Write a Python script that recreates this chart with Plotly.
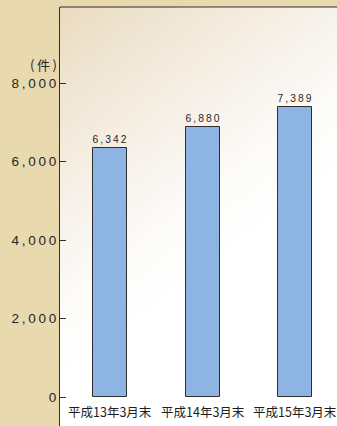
import plotly.graph_objects as go

# Year-end counts (件)
periods = ["平成13年3月末", "平成14年3月末", "平成15年3月末"]
counts = [6342, 6880, 7389]
y_ticks = [0, 2000, 4000, 6000, 8000]

W, H = 337, 426
top, left = 7, 60
zero_px = 397                      # pixel row of the zero line
px_per_unit = (zero_px - 83) / 8000
y_lo = -(H - zero_px) / px_per_unit
y_hi = (zero_px - top) / px_per_unit

cat_px0, cat_step = 110, 92.7
x_lo = -(cat_px0 - left) / cat_step
x_hi = (W - cat_px0) / cat_step

def spaced(s, sep="\u2009"):
    return sep.join(s)

fig = go.Figure()
fig.add_trace(go.Bar(
    x=list(range(len(periods))),
    y=counts,
    width=0.367,
    marker=dict(color="#8db4e2", line=dict(color="#2e2e2e", width=1)),
    text=[spaced(f"{v:,}") for v in counts],
    textposition="outside",
    textfont=dict(family="Liberation Sans, Arial", size=11.5, color="#262626"),
    cliponaxis=False,
    hoverinfo="skip",
))

# panel fill: warm beige in the upper-left fading to white along a diagonal
pw, ph = W - left, H - top
stops = [(0.0, "eadbbf"), (0.2, "efe4d0"), (0.25, "f0e6d6"), (0.43, "f5ede0"),
         (0.52, "f6f0e8"), (0.78, "fcfbf8"), (1.0, "ffffff")]
stop_tags = "".join(f"<stop offset='{o}' stop-color='%23{c}'/>" for o, c in stops)
gradient_svg = (
    "data:image/svg+xml;utf8,"
    f"<svg xmlns='http://www.w3.org/2000/svg' width='{pw}' height='{ph}' "
    f"viewBox='0 0 {pw} {ph}' preserveAspectRatio='none'>"
    "<defs><linearGradient id='g' gradientUnits='userSpaceOnUse' "
    "x1='0' y1='0' x2='183' y2='238'>"
    f"{stop_tags}"
    "</linearGradient></defs>"
    f"<rect width='{pw}' height='{ph}' fill='url(%23g)'/></svg>"
)

# category labels sit just under the zero line
label_annotations = [
    dict(text=p, x=i, y=0, xref="x", yref="y", xanchor="center", yanchor="top",
         yshift=-3, showarrow=False,
         font=dict(family="Noto Sans CJK JP", size=12.5, color="#1e1e1e"))
    for i, p in enumerate(periods)
]

fig.update_layout(
    width=W, height=H,
    margin=dict(l=left, r=0, t=top, b=0),
    paper_bgcolor="#e8d9af",
    plot_bgcolor="rgba(0,0,0,0)",
    showlegend=False,
    bargap=0,
    images=[dict(source=gradient_svg, xref="paper", yref="paper",
                 x=0, y=1, sizex=1, sizey=1, sizing="stretch",
                 xanchor="left", yanchor="top", layer="below")],
    xaxis=dict(
        range=[x_lo, x_hi],
        showgrid=False, zeroline=False, showline=False,
        showticklabels=False, ticks="",
    ),
    yaxis=dict(
        range=[y_lo, y_hi],
        tickvals=y_ticks,
        ticktext=[spaced(f"{v:,}") for v in y_ticks],
        showgrid=False, zeroline=False,
        showline=True, linecolor="#2e2e2e", linewidth=1.2,
        ticks="inside", ticklen=6, tickcolor="#2e2e2e", tickwidth=1,
        tickfont=dict(family="Liberation Sans, Arial", size=13.5, color="#262626"),
    ),
    shapes=[dict(type="line", xref="paper", yref="paper",
                 x0=0, x1=1, y0=1, y1=1,
                 line=dict(color="#2e2e2e", width=1.2))],
    annotations=label_annotations + [
        dict(text="(\u2009件\u2009)", xref="paper", yref="y",
             x=0, y=8460, xanchor="right", yanchor="middle",
             xshift=-1, showarrow=False,
             font=dict(family="Noto Sans CJK JP", size=13, color="#262626"))],
)

fig.write_html("out.html")
